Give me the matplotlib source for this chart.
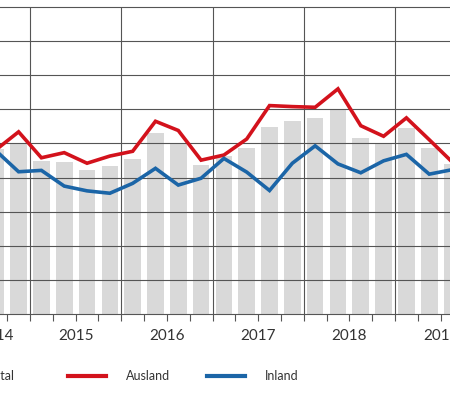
import matplotlib
matplotlib.use("Agg")
import matplotlib.pyplot as plt
from matplotlib.lines import Line2D
from matplotlib.patches import Rectangle

plt.rcParams['font.family'] = ['Lato', 'DejaVu Sans']

# quarterly values, 2014 Q3 to 2019 Q3
quarters = ['2014Q3', '2014Q4',
            '2015Q1', '2015Q2', '2015Q3', '2015Q4',
            '2016Q1', '2016Q2', '2016Q3', '2016Q4',
            '2017Q1', '2017Q2', '2017Q3', '2017Q4',
            '2018Q1', '2018Q2', '2018Q3', '2018Q4',
            '2019Q1', '2019Q2', '2019Q3']
total = [48.4, 50.2, 44.9, 44.6, 42.2, 43.5, 45.4, 53.0, 50.0, 43.7, 46.3,
         48.6, 54.9, 56.7, 57.5, 60.0, 51.5, 50.0, 54.6, 48.6, 44.0]
ausland = [48.1, 53.4, 45.8, 47.3, 44.2, 46.3, 47.7, 56.5, 53.8, 45.1, 46.6,
           51.3, 61.1, 60.8, 60.6, 66.0, 55.2, 52.1, 57.5, 51.1, 44.6]
inland = [47.9, 41.7, 42.1, 37.5, 36.1, 35.4, 38.3, 42.7, 37.8, 39.8, 45.6,
          41.6, 36.2, 44.2, 49.3, 44.0, 41.4, 44.9, 46.8, 41.0, 42.3]
years = [2014, 2015, 2016, 2017, 2018, 2019]
# the 2014 label sits in the middle of Q2-Q4 (series starts in Q2 2014)
year_label_pos = [2014.625, 2015.5, 2016.5, 2017.5, 2018.5, 2019.5]

GRAY = '#d9d9d9'
RED = '#d3121c'
BLUE = '#1b65a7'
GRID = '#555555'
TXT = '#333333'

# quarter centres as fractional years
x = [int(q[:4]) + (int(q[-1]) - 0.5) / 4 for q in quarters]

W, H = 450, 395
PX_YEAR = 91.25
fig = plt.figure(figsize=(W / 100, H / 100), dpi=100)
# the chart runs past the left and right edge of the picture (cropped view)
ax = fig.add_axes([-60 / W, 1 - 314 / H, (W + 120) / W, 307 / H])

ax.bar(x, total, width=0.182, color=GRAY, zorder=1)
ax.plot(x, ausland, color=RED, lw=2.6, solid_joinstyle='miter', zorder=3)
ax.plot(x, inland, color=BLUE, lw=2.6, solid_joinstyle='miter', zorder=3)

ax.set_yticks(range(10, 90, 10))
ax.yaxis.grid(True, color=GRID, lw=0.8)
ax.tick_params(axis='y', left=False, labelleft=False)
for yr in years[1:]:
    ax.axvline(yr, color=GRID, lw=0.8, zorder=1.5)

# quarter ticks, year labels in between
ax.xaxis.remove_overlapping_locs = False
ax.set_xticks([yr + k / 4 for yr in years for k in range(4)])
ax.set_xticks(year_label_pos, minor=True)
ax.set_xticklabels([str(yr) for yr in years], minor=True)
ax.tick_params(axis='x', which='major', length=5, width=0.8, color=GRID,
               labelbottom=False)
ax.tick_params(axis='x', which='minor', length=0, pad=10.5, labelsize=11,
               labelcolor=TXT)

ax.set_xlim(2015 - 90 / PX_YEAR, 2015 + 480 / PX_YEAR)
ax.set_ylim(0, 90)

for side in ['left', 'right']:
    ax.spines[side].set_visible(False)
ax.spines['top'].set_color(GRID)
ax.spines['top'].set_linewidth(0.8)
ax.spines['bottom'].set_color(GRID)
ax.spines['bottom'].set_linewidth(0.8)

# legend row, equal column widths, first entry cut at the left edge
ly = 1 - 376 / H
entries = [('Total', 'bar', GRAY), ('Ausland', 'line', RED), ('Inland', 'line', BLUE)]
for i, (label, kind, col) in enumerate(entries):
    x0 = -71 + 139 * i
    if kind == 'bar':
        fig.add_artist(Rectangle((x0 / W, ly - 5 / H), 38 / W, 10 / H,
                                 color=col, transform=fig.transFigure))
    else:
        fig.add_artist(Line2D([x0 / W, (x0 + 38) / W], [ly, ly], color=col,
                              lw=3, transform=fig.transFigure))
    fig.text((x0 + 58) / W, ly, label, fontsize=9, color=TXT, va='center')

fig.savefig('out.png', dpi=100)
